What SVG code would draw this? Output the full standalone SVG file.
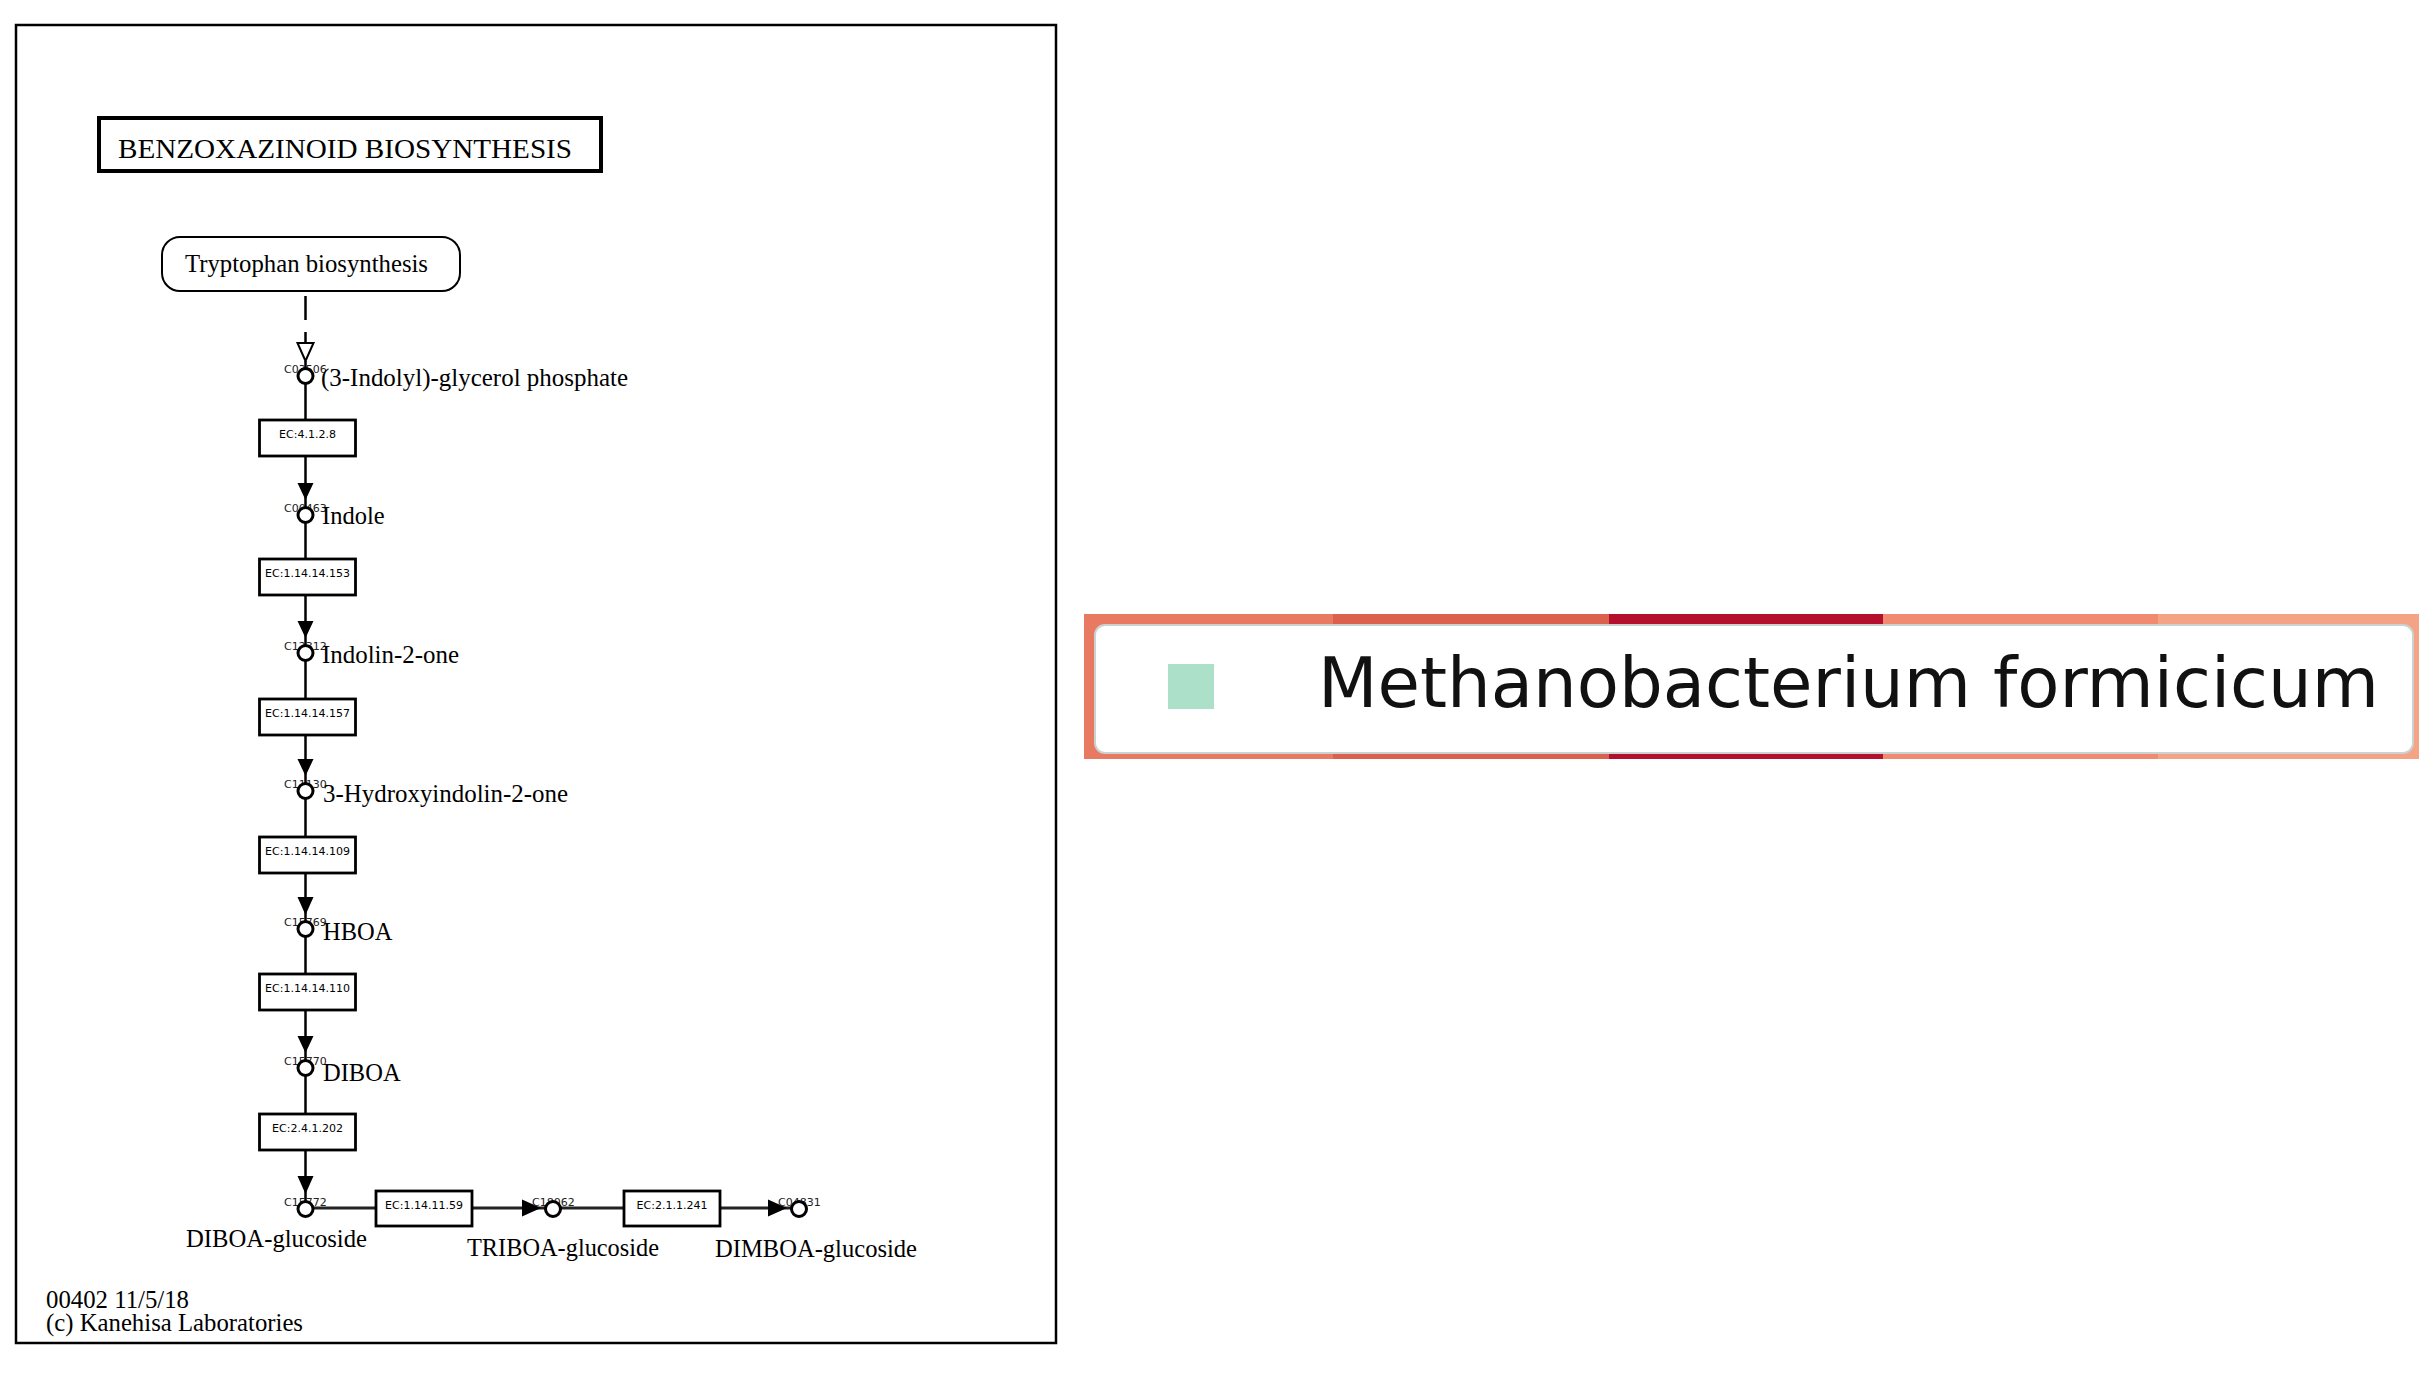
<svg xmlns="http://www.w3.org/2000/svg" width="2419" height="1374" viewBox="0 0 2419 1374">
<style>
.frame{fill:#fff;stroke:#000;stroke-width:2.5}
.title{fill:#fff;stroke:#000;stroke-width:4}
.map{fill:#fff;stroke:#000;stroke-width:2}
.ec{fill:#fff;stroke:#000;stroke-width:2.8}
.cpd{fill:#fff;stroke:#000;stroke-width:3}
.line{stroke:#000;stroke-width:2.5;fill:none}
.hline{stroke:#222;stroke-width:3;fill:none}
.ah{fill:#000;stroke:none}
.serif{font-family:"Liberation Serif","Times New Roman",serif;fill:#000}
.name{font-family:"Liberation Serif","Times New Roman",serif;font-size:24.5px;fill:#000}
.ect{font-family:"DejaVu Sans",Verdana,sans-serif;font-size:11px;fill:#000;text-anchor:middle}
.cid{font-family:"DejaVu Sans",Verdana,sans-serif;font-size:11px;fill:#222}
</style>
<rect width="2419" height="1374" fill="#fff"/>
<rect class="frame" x="16" y="25" width="1040" height="1318"/>

<g id="title">
<rect class="title" x="99" y="118" width="502" height="53"/>
<text class="serif" x="118" y="157.5" font-size="28" textLength="454" lengthAdjust="spacingAndGlyphs">BENZOXAZINOID BIOSYNTHESIS</text>
</g>

<g id="map-tryptophan">
<rect class="map" x="162" y="237" width="298" height="54" rx="18" ry="18"/>
<text class="name" x="185" y="272" textLength="243" lengthAdjust="spacingAndGlyphs">Tryptophan biosynthesis</text>
</g>

<g id="connectors">
<line class="line" x1="305.5" y1="296" x2="305.5" y2="343" stroke-dasharray="24 12"/>
<polygon points="297.5,343 313.5,343 305.5,361" fill="#fff" stroke="#000" stroke-width="2"/>
<line class="line" x1="305.5" y1="361" x2="305.5" y2="370"/>
<line class="line" x1="305.5" y1="376" x2="305.5" y2="1209"/>
<polygon class="ah" points="297.5,483 313.5,483 305.5,500"/>
<polygon class="ah" points="297.5,621 313.5,621 305.5,638"/>
<polygon class="ah" points="297.5,759 313.5,759 305.5,776"/>
<polygon class="ah" points="297.5,897 313.5,897 305.5,915"/>
<polygon class="ah" points="297.5,1036 313.5,1036 305.5,1053"/>
<polygon class="ah" points="297.5,1176 313.5,1176 305.5,1194"/>
<line class="hline" x1="305.5" y1="1208" x2="799" y2="1208"/>
<polygon class="ah" points="522,1199.5 522,1216.5 541,1208"/>
<polygon class="ah" points="768,1199.5 768,1216.5 787,1208"/>
</g>

<g id="ec-4.1.2.8"><rect class="ec" x="259.5" y="420" width="96" height="36"/><text class="ect" x="307.5" y="438">EC:4.1.2.8</text></g>
<g id="ec-1.14.14.153"><rect class="ec" x="259.5" y="559" width="96" height="36"/><text class="ect" x="307.5" y="577">EC:1.14.14.153</text></g>
<g id="ec-1.14.14.157"><rect class="ec" x="259.5" y="699" width="96" height="36"/><text class="ect" x="307.5" y="717">EC:1.14.14.157</text></g>
<g id="ec-1.14.14.109"><rect class="ec" x="259.5" y="837" width="96" height="36"/><text class="ect" x="307.5" y="855">EC:1.14.14.109</text></g>
<g id="ec-1.14.14.110"><rect class="ec" x="259.5" y="974" width="96" height="36"/><text class="ect" x="307.5" y="992">EC:1.14.14.110</text></g>
<g id="ec-2.4.1.202"><rect class="ec" x="259.5" y="1114" width="96" height="36"/><text class="ect" x="307.5" y="1132">EC:2.4.1.202</text></g>
<g id="ec-1.14.11.59"><rect class="ec" x="376" y="1191" width="96" height="35"/><text class="ect" x="424" y="1209">EC:1.14.11.59</text></g>
<g id="ec-2.1.1.241"><rect class="ec" x="624" y="1191" width="96" height="35"/><text class="ect" x="672" y="1209">EC:2.1.1.241</text></g>

<g id="C03506"><text class="cid" x="284" y="373">C03506</text><circle class="cpd" cx="305.5" cy="376" r="7.5"/><text class="name" x="321" y="386" textLength="307" lengthAdjust="spacingAndGlyphs">(3-Indolyl)-glycerol phosphate</text></g>
<g id="C00463"><text class="cid" x="284" y="512">C00463</text><circle class="cpd" cx="305.5" cy="515" r="7.5"/><text class="name" x="322" y="524">Indole</text></g>
<g id="C12312"><text class="cid" x="284" y="650">C12312</text><circle class="cpd" cx="305.5" cy="653" r="7.5"/><text class="name" x="322" y="663" textLength="137" lengthAdjust="spacingAndGlyphs">Indolin-2-one</text></g>
<g id="C11130"><text class="cid" x="284" y="788">C11130</text><circle class="cpd" cx="305.5" cy="791" r="7.5"/><text class="name" x="323" y="802" textLength="245" lengthAdjust="spacingAndGlyphs">3-Hydroxyindolin-2-one</text></g>
<g id="C15769"><text class="cid" x="284" y="926">C15769</text><circle class="cpd" cx="305.5" cy="929" r="7.5"/><text class="name" x="323" y="940">HBOA</text></g>
<g id="C15770"><text class="cid" x="284" y="1065">C15770</text><circle class="cpd" cx="305.5" cy="1068" r="7.5"/><text class="name" x="323" y="1081">DIBOA</text></g>
<g id="C15772"><text class="cid" x="284" y="1206">C15772</text><circle class="cpd" cx="305.5" cy="1209" r="7.5"/><text class="name" x="186" y="1247" textLength="181" lengthAdjust="spacingAndGlyphs">DIBOA-glucoside</text></g>
<g id="C18062"><text class="cid" x="532" y="1206">C18062</text><circle class="cpd" cx="553" cy="1209" r="7.5"/><text class="name" x="467" y="1256" textLength="192" lengthAdjust="spacingAndGlyphs">TRIBOA-glucoside</text></g>
<g id="C04831"><text class="cid" x="778" y="1206">C04831</text><circle class="cpd" cx="799" cy="1209" r="7.5"/><text class="name" x="715" y="1257" textLength="202" lengthAdjust="spacingAndGlyphs">DIMBOA-glucoside</text></g>

<g id="footer">
<text class="name" x="46" y="1308" textLength="143" lengthAdjust="spacingAndGlyphs">00402 11/5/18</text>
<text class="name" x="46" y="1331" textLength="257" lengthAdjust="spacingAndGlyphs">(c) Kanehisa Laboratories</text>
</g>

<g id="legend">
<rect x="1084" y="614" width="249" height="145" fill="#e87a62"/>
<rect x="1333" y="614" width="276" height="145" fill="#dc604e"/>
<rect x="1609" y="614" width="274" height="145" fill="#b4102e"/>
<rect x="1883" y="614" width="275" height="145" fill="#f08a70"/>
<rect x="2158" y="614" width="261" height="145" fill="#f4a484"/>
<rect x="1095" y="625" width="1318" height="128" rx="10" ry="10" fill="#fff" stroke="#c9d3d3" stroke-width="2"/>
<rect x="1168" y="664" width="46" height="45" fill="#ade0c9"/>
<text x="1318" y="707" font-family="'DejaVu Sans',Verdana,sans-serif" font-size="69" fill="#111">Methanobacterium formicicum</text>
</g>
</svg>
